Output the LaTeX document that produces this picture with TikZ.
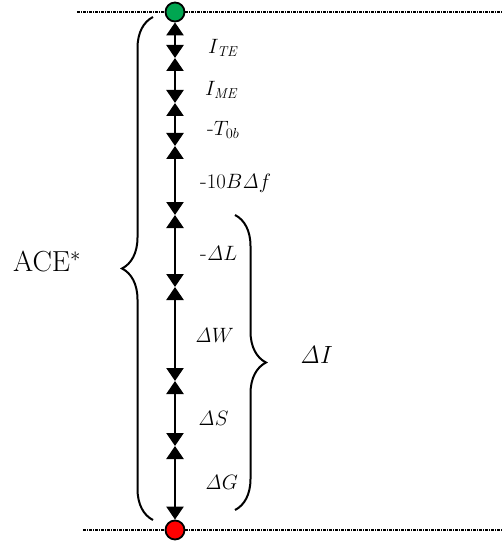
\documentclass[tikz,border=0pt]{standalone}
\usepackage{tikz}
\usetikzlibrary{arrows.meta, decorations.pathreplacing, positioning}
\definecolor{acegreen}{HTML}{00A651}
\definecolor{acered}{HTML}{FF0000}
\newcommand{\shortminus}{\mbox{-}}

\begin{document}
\begin{tikzpicture}[x=1pt, y=-1pt,
    seg/.style={{Triangle[width=17pt,length=13pt]}-{Triangle[width=17pt,length=13pt]}, line width=2.4pt},
    rule/.style={line width=1.8pt, dash pattern=on 3pt off 1pt on 1pt off 1pt},
    dot/.style={circle, draw=black, line width=1.8pt, minimum size=19pt, inner sep=0pt},
    lbl/.style={anchor=west, inner sep=0pt, font=\fontsize{22}{26}\selectfont},
    curly/.style={decorate, decoration={brace, amplitude=31pt}, line width=2pt}
]
\useasboundingbox (0,0) rectangle (503,548);
% end points and rules
\node[dot, fill=acegreen] (top) at (175,12) {};
\node[dot, fill=acered] (bot) at (175,530) {};
\coordinate (tl) at (77,12);
\coordinate (tr) at (503,12);
\coordinate (bl) at (83,530);
\coordinate (br) at (503,530);
\draw[rule] (tl) -- (top) -- (tr);
\draw[rule] (bl) -- (bot) -- (br);
% break points
\coordinate (b1) at (175,58);
\coordinate (b2) at (175,103);
\coordinate (b3) at (175,146);
\coordinate (b4) at (175,215);
\coordinate (b5) at (175,287);
\coordinate (b6) at (175,381);
\coordinate (b7) at (175,446);
\draw[seg] (top) -- (b1);
\draw[seg] (b1) -- (b2);
\draw[seg] (b2) -- (b3);
\draw[seg] (b3) -- (b4);
\draw[seg] (b4) -- (b5);
\draw[seg] (b5) -- (b6);
\draw[seg] (b6) -- (b7);
\draw[seg] (b7) -- (bot);
% labels
\node[lbl] (ite) at (208,48) {$I_{\mathit{TE}}$};
\node[lbl] (ime) at (205,90) {$I_{\mathit{ME}}$};
\node[lbl] (tob) at (207,130) {$\shortminus T_{0b}$};
\node[lbl] (bdf) at (200,183) {$\shortminus 10B\mathit{\Delta} f$};
\node[lbl] (dl) at (200,253) {$\shortminus\mathit{\Delta} L$};
\node[lbl] (dw) at (195,335) {$\mathit{\Delta} W$};
\node[lbl] (ds) at (198,418) {$\mathit{\Delta} S$};
\node[lbl] (dg) at (205,482) {$\mathit{\Delta} G$};
% braces
\coordinate (lb0) at (153,520);
\coordinate (lb1) at (153,17);
\coordinate (rb0) at (235,215);
\coordinate (rb1) at (235,510);
\draw[curly] (lb0) -- (lb1);
\draw[curly] (rb0) -- (rb1);
\node[lbl, font=\fontsize{29}{32}\selectfont] (ace) at (13,261) {ACE$^*$};
\node[lbl, font=\fontsize{26}{30}\selectfont] (di) at (300,355) {$\mathit{\Delta} I$};
\end{tikzpicture}
\end{document}
